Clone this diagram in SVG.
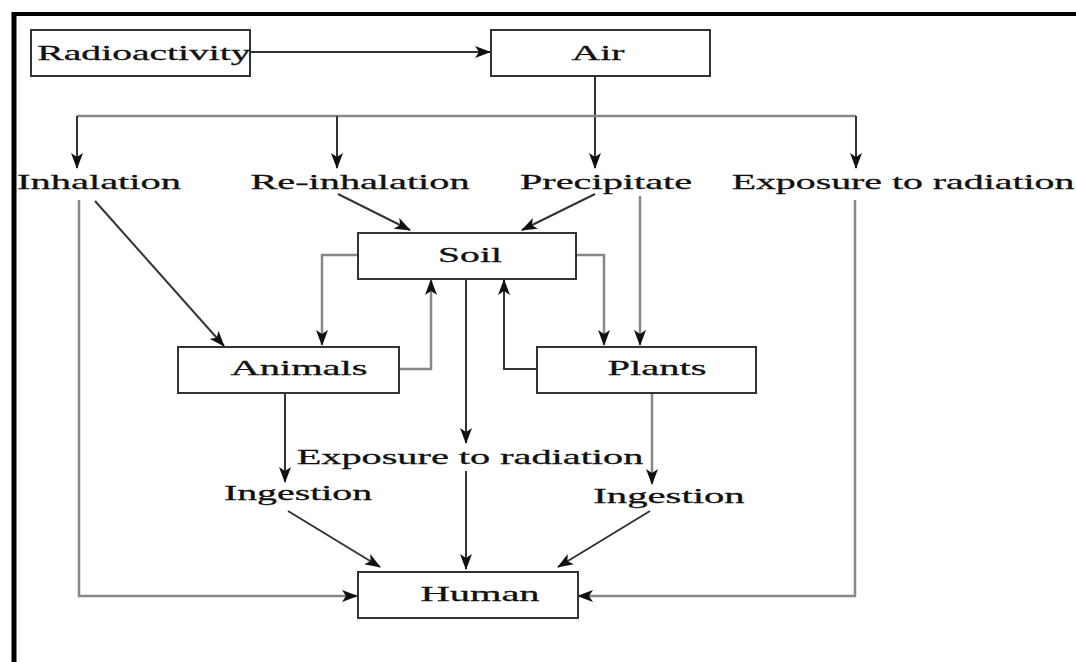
<svg xmlns="http://www.w3.org/2000/svg" width="1076" height="662" viewBox="0 0 1076 662">
<style>
.box{fill:#fff;stroke:#333;stroke-width:2}
.t{font-family:"Liberation Serif","Times New Roman",serif;font-size:22px;fill:#111;stroke:#111;stroke-width:0.3;text-anchor:middle}
.c{fill:none;stroke:#333;stroke-width:2}
.g{fill:none;stroke:#888;stroke-width:2.5}
.a{marker-end:url(#ah)}
</style>
<defs>
<marker id="ah" markerUnits="userSpaceOnUse" markerWidth="16" markerHeight="12" refX="15" refY="6" orient="auto">
<path d="M0,0 L16,6 L0,12 L4,6 Z" fill="#111"/>
</marker>
</defs>
<rect width="1076" height="662" fill="#fff"/>
<g id="frame">
<line x1="12" y1="14" x2="1076" y2="14" stroke="#000" stroke-width="4"/>
<line x1="14" y1="12" x2="14" y2="662" stroke="#000" stroke-width="5"/>
</g>
<g id="connectors">
<line class="c a" x1="251" y1="52" x2="490" y2="52"/>
<line class="c a" x1="595" y1="77" x2="595" y2="168"/>
<line class="g" x1="77" y1="116" x2="856" y2="116"/>
<line class="c a" x1="77" y1="116" x2="77" y2="168"/>
<line class="c a" x1="337" y1="116" x2="337" y2="168"/>
<line class="c a" x1="856" y1="116" x2="856" y2="168"/>
<polyline class="g a" points="79,200 79,596 357,596"/>
<polyline class="g a" points="855,200 855,596 578,596"/>
<line class="c a" x1="95" y1="201" x2="224" y2="346"/>
<line class="c a" x1="338" y1="194" x2="410" y2="230"/>
<line class="c a" x1="595" y1="194" x2="522" y2="230"/>
<line class="g a" x1="640" y1="196" x2="640" y2="345"/>
<polyline class="g a" points="357,255 322,255 322,345"/>
<polyline class="g a" points="577,255 604,255 604,345"/>
<polyline class="g a" points="399,369 431,369 431,280"/>
<polyline class="c a" points="537,369 504,369 504,280"/>
<line class="c a" x1="466" y1="280" x2="466" y2="443"/>
<line class="c a" x1="466" y1="471" x2="466" y2="569"/>
<line class="c a" x1="285" y1="393" x2="285" y2="482"/>
<line class="g a" x1="652" y1="393" x2="652" y2="484"/>
<line class="c a" x1="288" y1="511" x2="380" y2="567"/>
<line class="c a" x1="650" y1="511" x2="558" y2="567"/>
</g>
<g id="radioactivity">
<rect class="box" x="31" y="30" width="219" height="46"/>
<text class="t" transform="translate(144,60) scale(1.8,1)">Radioactivity</text>
</g>
<g id="air">
<rect class="box" x="491" y="30" width="219" height="46"/>
<text class="t" transform="translate(598,60) scale(1.8,1)">Air</text>
</g>
<g id="inhalation"><text class="t" transform="translate(99,189) scale(1.84,1)">Inhalation</text></g>
<g id="reinhalation"><text class="t" transform="translate(360,189) scale(1.83,1)">Re-inhalation</text></g>
<g id="precipitate"><text class="t" transform="translate(606,189) scale(1.83,1)">Precipitate</text></g>
<g id="exposure1"><text class="t" transform="translate(903,189) scale(1.81,1)">Exposure to radiation</text></g>
<g id="soil">
<rect class="box" x="358" y="233" width="218" height="46"/>
<text class="t" transform="translate(470,262) scale(1.8,1)">Soil</text>
</g>
<g id="animals">
<rect class="box" x="178" y="347" width="221" height="46"/>
<text class="t" transform="translate(299,375) scale(1.84,1)">Animals</text>
</g>
<g id="plants">
<rect class="box" x="537" y="347" width="219" height="46"/>
<text class="t" transform="translate(657,375) scale(1.84,1)">Plants</text>
</g>
<g id="exposure2"><text class="t" transform="translate(470,464) scale(1.83,1)">Exposure to radiation</text></g>
<g id="ingestion1"><text class="t" transform="translate(298,500) scale(1.81,1)">Ingestion</text></g>
<g id="ingestion2"><text class="t" transform="translate(669,503) scale(1.85,1)">Ingestion</text></g>
<g id="human">
<rect class="box" x="358" y="572" width="220" height="46"/>
<text class="t" transform="translate(480,601) scale(1.84,1)">Human</text>
</g>
</svg>
